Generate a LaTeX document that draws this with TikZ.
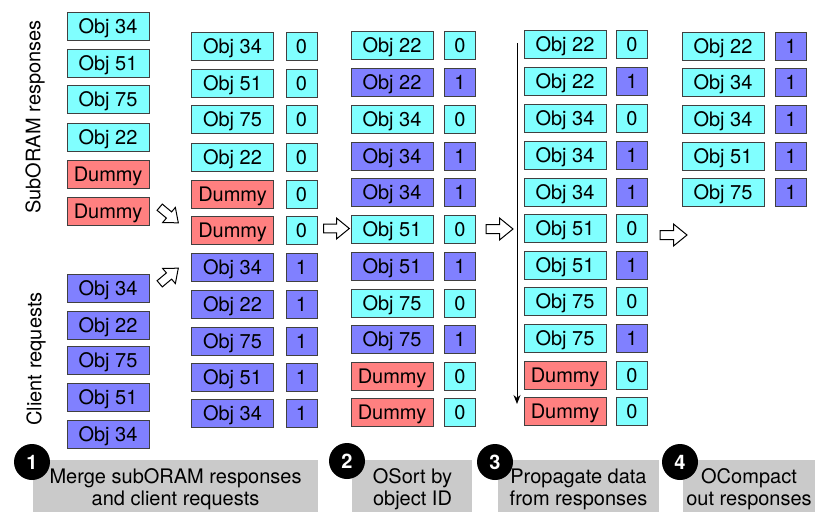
\documentclass[tikz,border=0pt]{standalone}
\usepackage{fontspec}
\setmainfont{TeX Gyre Heros}
\usetikzlibrary{arrows.meta}
\definecolor{cyb}{HTML}{80FFFF}
\definecolor{blb}{HTML}{8080FF}
\definecolor{rdb}{HTML}{FF8080}
\definecolor{gyb}{HTML}{CACACA}
\tikzset{
  bx/.style={draw=black!75, line width=0.8pt, inner sep=0pt, minimum height=28pt, text height=14pt, text depth=0pt, font=\fontsize{20}{22}\selectfont},
  namebox/.style={bx, minimum width=82pt},
  numbox/.style={bx, minimum width=31pt},
  cy/.style={fill=cyb}, bl/.style={fill=blb}, rd/.style={fill=rdb},
  hollow/.style={draw=black, line width=1pt, fill=white, line join=miter},
  stepnum/.style={circle, fill=black, text=white, minimum size=36pt, inner sep=0pt, font=\bfseries\fontsize{20}{20}\selectfont},
  caption/.style={inner sep=0pt, align=center, font=\fontsize{20}{22}\selectfont},
  sidelabel/.style={rotate=90, font=\fontsize{20}{22}\selectfont}
}
\newcommand{\hollowarrow}[3]{% center, angle, scale
  \draw[hollow, shift={#1}, rotate=#2, scale=#3]
    (-13.5,-4.5) -- (0,-4.5) -- (0,-11) -- (13.5,0) -- (0,11) -- (0,4.5) -- (-13.5,4.5) -- cycle;}
\begin{document}
\begin{tikzpicture}[x=1pt,y=-1pt]
\useasboundingbox (0,0) rectangle (815,512);

% column 1
\foreach \y/\t/\c [count=\i] in {26.5/Obj 34/cy, 63/Obj 51/cy, 99.5/Obj 75/cy, 137/Obj 22/cy, 174/Dummy/rd, 211/Dummy/rd,
  288/Obj 34/bl, 325/Obj 22/bl, 360/Obj 75/bl, 397/Obj 51/bl, 434/Obj 34/bl}
  \node[namebox, \c] (a\i) at (108,\y) {\t};

\node[sidelabel] (lsub) at (35,117) {SubORAM responses};
\node[sidelabel] (lcli) at (36,359) {Client requests};

% column 2
\foreach \y/\t/\c/\n/\d [count=\i] in {46/Obj 34/cy/0/cy, 83/Obj 51/cy/0/cy, 119.5/Obj 75/cy/0/cy, 157/Obj 22/cy/0/cy,
  194/Dummy/rd/0/cy, 230/Dummy/rd/0/cy, 267/Obj 34/bl/1/bl, 304/Obj 22/bl/1/bl, 341/Obj 75/bl/1/bl,
  377/Obj 51/bl/1/bl, 413/Obj 34/bl/1/bl}
  {\node[namebox, \c] (b\i) at (232.5,\y) {\t};
   \node[numbox, \d] (bn\i) at (301.5,\y) {\n};}

% column 3
\foreach \y/\t/\c/\n/\d [count=\i] in {45/Obj 22/cy/0/cy, 82/Obj 22/bl/1/bl, 119/Obj 34/cy/0/cy, 156/Obj 34/bl/1/bl,
  192/Obj 34/bl/1/bl, 229/Obj 51/cy/0/cy, 266/Obj 51/bl/1/bl, 303/Obj 75/cy/0/cy, 339/Obj 75/bl/1/bl,
  376/Dummy/rd/0/cy, 412/Dummy/rd/0/cy}
  {\node[namebox, \c] (c\i) at (392,\y) {\t};
   \node[numbox, \d] (cn\i) at (460,\y) {\n};}

% column 4
\foreach \y/\t/\c/\n/\d [count=\i] in {44/Obj 22/cy/0/cy, 81/Obj 22/cy/1/bl, 118/Obj 34/cy/0/cy, 155/Obj 34/cy/1/bl,
  192/Obj 34/cy/1/bl, 228/Obj 51/cy/0/cy, 265/Obj 51/cy/1/bl, 301/Obj 75/cy/0/cy, 338/Obj 75/cy/1/bl,
  375/Dummy/rd/0/cy, 411/Dummy/rd/0/cy}
  {\node[namebox, \c] (d\i) at (565,\y) {\t};
   \node[numbox, \d] (dn\i) at (632,\y) {\n};}

% column 5
\foreach \y/\t [count=\i] in {46/Obj 22, 82/Obj 34, 119/Obj 34, 156/Obj 51, 192/Obj 75}
  {\node[namebox, cy] (e\i) at (723,\y) {\t};
   \node[numbox, bl] (en\i) at (791,\y) {1};}

% propagate arrow
\coordinate (ptop) at (517,43);
\coordinate (pbot) at (517,404);
\draw[line width=1pt, -{Stealth[length=9pt,width=7pt]}] (ptop) -- (pbot);

% hollow arrows
\hollowarrow{(169,215)}{-40}{0.9}
\hollowarrow{(169,276)}{40}{0.9}
\hollowarrow{(336.5,228.5)}{0}{0.95}
\hollowarrow{(499.5,229)}{0}{1}
\hollowarrow{(673.5,235)}{0}{1}

% captions
\fill[gyb] (33,460) rectangle (318,512);
\fill[gyb] (352,460) rectangle (472,512);
\fill[gyb] (498,460) rectangle (659,512);
\fill[gyb] (683,460) rectangle (815,512);
\node[caption] (t1) at (175.5,489) {Merge subORAM responses\\and client requests};
\node[caption] (t2) at (412.5,489) {OSort by\\object ID};
\node[caption] (t3) at (578.5,489) {Propagate data\\from responses};
\node[caption] (t4) at (749,489) {OCompact\\out responses};

\node[stepnum] (s1) at (32,462) {1};
\node[stepnum] (s2) at (347,461) {2};
\node[stepnum] (s3) at (495,462) {3};
\node[stepnum] (s4) at (680,462) {4};
\end{tikzpicture}
\end{document}
